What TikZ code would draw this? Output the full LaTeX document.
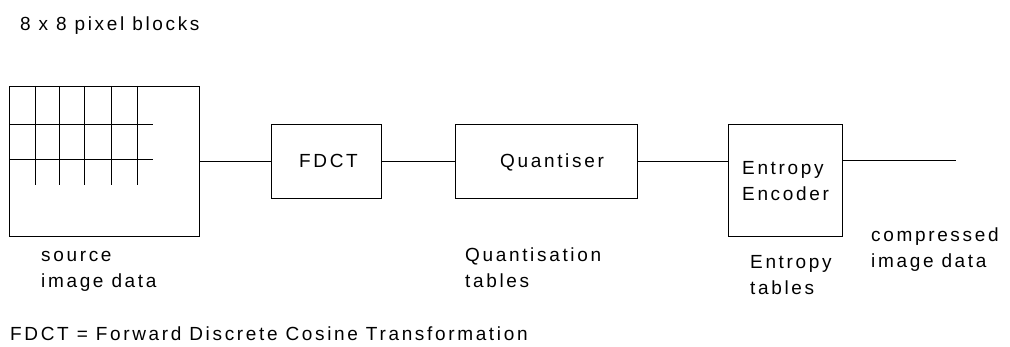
\documentclass[tikz,border=0pt]{standalone}
\usepackage{fontspec}
\newfontfamily\lab[LetterSpace=14]{Liberation Sans}
\begin{document}
\begin{tikzpicture}[x=1pt,y=-1pt,
  box/.style={draw,line width=0.8pt,inner sep=0pt},
  txt/.style={font=\lab\fontsize{19}{26}\selectfont,inner sep=0pt,align=left,anchor=base west},
  wire/.style={line width=0.8pt},
  grid/.style={line width=0.8pt}]
\useasboundingbox (0,0) rectangle (1010,347);
\node[box,minimum width=190pt,minimum height=150pt] (src) at (104,161) {};
\node[box,minimum width=110pt,minimum height=74pt] (fdct) at (326,161) {};
\node[box,minimum width=182pt,minimum height=74pt] (quant) at (546,161) {};
\node[box,minimum width=114pt,minimum height=112pt] (ent) at (785,180) {};
% grid of pixel blocks
\foreach \gx in {35,59,84,111,137} \draw[grid] (\gx,86) -- (\gx,185);
\foreach \gy in {124,159} \draw[grid] (9,\gy) -- (153,\gy);
% labels inside boxes
\node[txt] (tf) at (299,168) {FDCT};
\node[txt] (tq) at (500,168) {Quantiser};
\node[txt] (te) at (742,201) {Entropy\\Encoder};
% other labels
\node[txt] (t8) at (20,31) {8 x 8 pixel blocks};
\node[txt] (ts) at (41,288) {source\\image data};
\node[txt] (tqt) at (465,288) {Quantisation\\tables};
\node[txt] (tet) at (750,295) {Entropy\\tables};
\node[txt] (tc) at (871,268) {compressed\\image data};
\node[txt] (tdef) at (10,341) {FDCT = Forward Discrete Cosine Transformation};
% connectors
\coordinate (out) at (956,160);
\draw[wire] (src.east |- fdct.west) -- (fdct.west);
\draw[wire] (fdct.east) -- (quant.west);
\draw[wire] (quant.east) -- (quant.east -| ent.west);
\draw[wire] (out -| ent.east) -- (out);
\end{tikzpicture}
\end{document}
